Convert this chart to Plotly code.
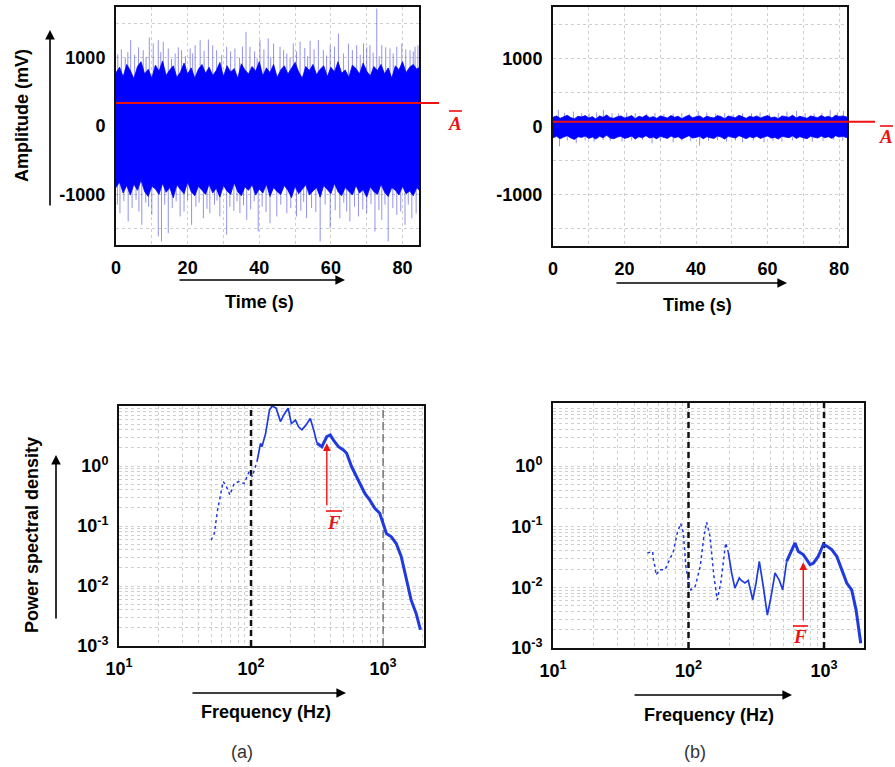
import math
import plotly.graph_objects as go

W, H = 895, 767


def px(x):
    return x / W


def py(y):
    return 1 - y / H


# ---------------- (a) time signal, amplitude in mV ----------------
# dense core of the signal, one envelope value per second
a_core_hi = [780, 860, 720, 900, 810, 690, 870, 940, 760, 830, 700, 890, 800, 950, 740, 820, 880, 710, 790, 920,
             760, 850, 700, 830, 900, 770, 860, 740, 810, 930, 720, 880, 790, 840, 700, 910, 820, 760, 870, 800,
             940, 730, 850, 780, 900, 710, 820, 880, 760, 840, 930, 790, 700, 870, 810, 900, 750, 830, 880, 720,
             860, 790, 940, 770, 820, 710, 890, 840, 760, 920, 800, 730, 870, 810, 900, 760, 850, 700, 880, 820,
             940, 780, 860, 900, 830, 870]
a_core_lo = [-900, -820, -980, -870, -1010, -850, -940, -790, -960, -1030, -880, -920, -1000, -840, -970, -900,
             -1050, -860, -930, -990, -820, -960, -1020, -880, -940, -1000, -850, -980, -910, -1040, -870, -950,
             -1000, -830, -960, -1020, -890, -940, -860, -1010, -920, -980, -850, -1030, -900, -960, -1000, -870,
             -940, -1050, -880, -990, -920, -860, -1010, -950, -900, -1040, -870, -930, -990, -840, -960, -1020,
             -900, -950, -1010, -870, -980, -930, -1040, -890, -960, -1000, -850, -970, -1030, -900, -940, -1010,
             -880, -990, -950, -1020, -900, -960]
# individual positive / negative peaks (time s, amplitude mV)
a_peak_up_t = [0.5, 1.5, 2.6, 3.3, 4.1, 5.2, 6.3, 7.6, 8.4, 9.3, 10.4, 11.8, 12.5, 13.2, 14.6,
               15.5, 16.5, 17.4, 18.3, 19.4, 20.7, 21.4, 22.1, 23.5, 24.6, 25.8, 27.0, 28.1,
               29.5, 30.9, 32.0, 33.2, 34.5, 35.3, 36.3, 37.4, 38.7, 39.4, 40.2, 41.3, 42.5,
               43.2, 44.0, 45.8, 46.8, 47.7, 48.6, 49.5, 50.4, 51.4, 52.7, 53.5, 54.2, 55.3,
               56.5, 57.9, 58.8, 59.8, 61.0, 62.1, 63.5, 64.9, 66.0, 67.2, 68.2, 69.1, 70.0,
               70.9, 71.8, 72.8, 73.5, 74.2, 75.3, 76.5, 77.4, 78.4, 79.8, 80.9, 82.1, 83.0,
               83.5, 84.3]
a_peak_up = [1050, 1120, 1000, 1080, 1255, 1040, 1150, 1109, 1010, 1294, 1206, 1255, 1080,
             1231, 1133, 980, 1060, 1150, 1109, 1020, 1133, 1060, 1182, 1255, 1100, 1265,
             1180, 1109, 1040, 1158, 1090, 1133, 1000, 1160, 1377, 1158, 1090, 990, 1255,
             1120, 1279, 1010, 1206, 1158, 1110, 1060, 1000, 1206, 1090, 1231, 1140, 1020,
             1245, 1120, 1255, 1109, 1030, 1182, 1160, 1352, 1060, 1206, 1110, 1182, 1040,
             1206, 1150, 1182, 1070, 1717, 1020, 1182, 1150, 1133, 1060, 1158, 1206, 1120,
             1109, 1090, 1158, 1180]
a_peak_dn_t = [0.4, 1.1, 2.2, 3.4, 4.5, 5.6, 6.4, 7.2, 8.3, 9.1, 10.0, 11.8, 12.7, 13.6,
               14.6, 15.7, 16.8, 17.9, 19.0, 20.0, 21.1, 22.3, 23.2, 24.4, 25.4, 26.2, 27.5,
               28.2, 29.0, 30.9, 31.8, 32.9, 33.8, 34.6, 35.6, 36.5, 37.6, 38.6, 39.7, 40.8,
               41.9, 43.0, 44.9, 46.0, 47.7, 48.8, 50.4, 51.6, 52.4, 53.2, 54.6, 55.8, 57.0,
               58.4, 59.8, 61.2, 62.5, 63.6, 64.4, 65.3, 66.6, 67.7, 68.9, 70.0, 71.2, 72.3,
               73.4, 74.2, 75.1, 76.0, 77.3, 78.4, 79.5, 80.7, 81.6, 82.6, 83.8]
a_peak_dn = [-1150, -1275, -1100, -1396, -1200, -1080, -1250, -1445, -1120, -1180, -1299,
             -1615, -1688, -1150, -1567, -1200, -1100, -1323, -1250, -1080, -1445, -1180,
             -1120, -1348, -1210, -1275, -1150, -1090, -1323, -1591, -1180, -1240, -1100,
             -1275, -1160, -1372, -1220, -1100, -1542, -1180, -1260, -1421, -1323, -1150,
             -1275, -1200, -1323, -1240, -1110, -1348, -1200, -1260, -1688, -1150, -1494,
             -1230, -1348, -1120, -1250, -1396, -1180, -1323, -1220, -1275, -1140, -1542,
             -1230, -1372, -1150, -1688, -1200, -1299, -1250, -1445, -1150, -1348, -1280]
a_mean = 336

# ---------------- (b) time signal, amplitude in mV ----------------
b_core_hi = [140, 160, 125, 150, 170, 135, 120, 155, 145, 165, 130, 150, 115, 160, 140, 175, 135, 125, 150, 160,
             130, 145, 165, 120, 155, 140, 170, 135, 150, 125, 160, 145, 130, 165, 140, 155, 120, 150, 170, 135,
             145, 160, 125, 155, 140, 130, 165, 150, 120, 160, 145, 135, 170, 150, 125, 155, 140, 160, 130, 150,
             165, 135, 145, 120, 160, 150, 140, 170, 130, 155, 145, 125, 160, 150, 135, 165, 140, 155, 130, 170,
             150, 160, 145, 155]
b_core_lo = [-160, -140, -175, -150, -130, -165, -185, -145, -155, -135, -170, -150, -180, -140, -160, -125,
             -165, -175, -150, -140, -170, -155, -135, -180, -145, -160, -130, -165, -150, -175, -140, -155,
             -170, -135, -160, -145, -180, -150, -130, -165, -155, -140, -175, -145, -160, -170, -135, -150,
             -180, -140, -155, -165, -130, -150, -175, -145, -160, -140, -170, -150, -135, -165, -155, -180,
             -140, -150, -160, -130, -170, -145, -155, -175, -140, -150, -165, -135, -160, -145, -170, -130,
             -150, -140, -155, -160]
b_peak_up_t = [1.5, 3.2, 5.7, 8.0, 10.1, 12.2, 14.1, 16.5, 18.3, 20.6, 23.0, 26.2, 28.5,
               31.0, 33.6, 36.0, 38.2, 40.6, 43.0, 45.5, 48.0, 50.4, 53.0, 55.5, 57.9, 60.5,
               63.0, 65.4, 68.1, 70.5, 73.0, 75.2, 77.5, 79.5, 81.2]
b_peak_up = [248, 205, 224, 200, 195, 209, 248, 200, 195, 209, 200, 195, 205, 190, 195,
             200, 190, 232, 209, 195, 200, 185, 200, 195, 209, 195, 200, 224, 232, 200,
             195, 205, 248, 210, 232]
b_peak_dn_t = [1.8, 4.0, 6.5, 9.0, 11.5, 14.0, 16.0, 19.3, 22.0, 25.0, 27.7, 30.0, 33.6,
               36.0, 38.5, 41.0, 43.5, 46.0, 48.5, 51.0, 53.0, 56.0, 59.0, 61.5, 64.0, 67.0,
               70.0, 72.5, 75.5, 78.5, 81.0]
b_peak_dn = [-287, -200, -241, -200, -217, -195, -205, -217, -200, -195, -241, -205, -226,
             -200, -210, -277, -205, -195, -217, -200, -226, -200, -226, -205, -217, -200,
             -195, -217, -205, -192, -205]
b_mean = 73

# ---------------- power spectral densities ----------------
a_freq = [49.8, 52.7, 55.8, 59.1, 61.5, 64.4, 69.2, 74.5, 81.2, 88.5, 96.6, 102, 111, 118,
          121, 129, 138, 144.6, 155, 167, 177, 191, 202, 217, 229, 243, 260, 281, 298, 316,
          344, 375, 398, 421, 459, 500, 530, 578, 649, 728, 794, 866, 944, 1000, 1060, 1154,
          1258, 1372, 1497, 1632, 1780, 1920]
a_psd = [0.058, 0.075, 0.185, 0.35, 0.55, 0.48, 0.33, 0.51, 0.55, 0.51, 0.8, 0.66, 1.18,
         2.39, 2.1, 3.5, 8.6, 10.0, 9.2, 5.5, 7.1, 9.2, 5.1, 5.8, 4.5, 4.0, 4.8, 6.2, 4.0,
         2.4, 2.1, 3.1, 3.3, 2.7, 2.1, 1.85, 1.63, 0.97, 0.58, 0.35, 0.27, 0.197, 0.163,
         0.111, 0.075, 0.066, 0.051, 0.031, 0.0126, 0.0058, 0.0035, 0.00185]
a_mean_freq = 375

b_freq = [49.7, 54.4, 55, 56.6, 57.5, 61.6, 67.1, 72.2, 77.3, 82.7, 87.5, 91.6, 95.6, 100,
          104, 112, 122, 130, 136, 144, 154, 163, 173, 188, 197, 208, 220, 237, 245, 261,
          276, 298, 315, 333, 353, 382, 407, 435, 468, 495, 530, 568, 611, 646, 703, 745,
          788, 834, 908, 988, 1047, 1140, 1241, 1351, 1472, 1600, 1722, 1866]
b_psd = [0.037, 0.039, 0.0287, 0.022, 0.016, 0.0196, 0.0196, 0.0287, 0.039, 0.0795, 0.113,
         0.0795, 0.022, 0.0125, 0.0091, 0.0103, 0.022, 0.07, 0.119, 0.07, 0.0152, 0.0062,
         0.0118, 0.054, 0.037, 0.0173, 0.0097, 0.0143, 0.013, 0.0118, 0.013, 0.0062, 0.0118,
         0.0269, 0.0118, 0.0035, 0.0071, 0.0173, 0.013, 0.0091, 0.0269, 0.037, 0.054, 0.039,
         0.0347, 0.0287, 0.0237, 0.025, 0.0326, 0.051, 0.048, 0.042, 0.0326, 0.0196, 0.0118,
         0.0091, 0.0043, 0.0012]
b_mean_freq = 703

# reference frequencies marked with dashed lines
band_edges = [100, 1000]

BLUE = "#0000ff"
PSD_BLUE = "#1f3be0"
RED = "#ee1111"
GRID = "#cfcfcf"
SANS = "Liberation Sans, Arial, sans-serif"
SERIF = "Liberation Serif, Times New Roman, serif"

fig = go.Figure()


def needles(ts, vals):
    xs, ys = [], []
    for t, v in zip(ts, vals):
        xs += [t, t, None]
        ys += [0, v, None]
    return xs, ys


def add_signal(xa, ya, hi, lo, up_t, up, dn_t, dn):
    n = min(len(hi), len(lo))
    t = list(range(n))
    for ts, vs in ((up_t, up), (dn_t, dn)):
        xs, ys = needles(ts, vs)
        fig.add_trace(go.Scatter(x=xs, y=ys, mode="lines", xaxis=xa, yaxis=ya,
                                 line=dict(color="rgba(40,40,215,0.5)", width=1),
                                 hoverinfo="skip"))
    fig.add_trace(go.Scatter(x=t + t[::-1], y=hi[:n] + lo[:n][::-1], mode="lines",
                             fill="toself", fillcolor=BLUE, xaxis=xa, yaxis=ya,
                             line=dict(color=BLUE, width=0.8), hoverinfo="skip"))


add_signal("x", "y", a_core_hi, a_core_lo, a_peak_up_t, a_peak_up, a_peak_dn_t, a_peak_dn)
add_signal("x2", "y2", b_core_hi, b_core_lo, b_peak_up_t, b_peak_up, b_peak_dn_t, b_peak_dn)


def add_psd(xa, ya, f, p, low_cut, high_cut):
    # sparse dotted low band, thin middle band, thick dense high band;
    # neighbouring pieces share their boundary sample so the curve stays joined
    i1 = max(i for i, v in enumerate(f) if v <= low_cut)
    i2 = max(i for i, v in enumerate(f) if v <= high_cut)
    segs = [
        (range(0, i1 + 1), dict(width=1.5, dash="dot")),
        (range(i1, i2 + 1), dict(width=1.7)),
        (range(i2, len(f)), dict(width=3)),
    ]
    for idx, style in segs:
        fig.add_trace(go.Scatter(x=[f[i] for i in idx], y=[p[i] for i in idx],
                                 mode="lines", xaxis=xa, yaxis=ya,
                                 line=dict(color=PSD_BLUE, **style), hoverinfo="skip"))


# dashed reference frequencies
fig.add_trace(go.Scatter(x=[band_edges[0]] * 2, y=[1e-3, 10], mode="lines", xaxis="x3",
                         yaxis="y3", line=dict(color="#111", width=2.5, dash="6px,4px")))
fig.add_trace(go.Scatter(x=[band_edges[1]] * 2, y=[1e-3, 10], mode="lines", xaxis="x3",
                         yaxis="y3", line=dict(color="#555", width=1.2, dash="8px,4px")))
for fe in band_edges:
    fig.add_trace(go.Scatter(x=[fe] * 2, y=[1e-3, 12], mode="lines", xaxis="x4",
                             yaxis="y4", line=dict(color="#111", width=2.5, dash="6px,4px")))

add_psd("x3", "y3", a_freq, a_psd, 113, 330)
add_psd("x4", "y4", b_freq, b_psd, 197, 530)

# ---------------- axes ----------------
tick_font = dict(family=SANS, size=18, color="#000", weight="bold")
frame = dict(showline=True, mirror=True, linecolor="#111", linewidth=2, zeroline=False,
             showgrid=True, gridcolor=GRID, griddash="dot", gridwidth=1,
             tickfont=tick_font, ticks="", ticklabelstandoff=5, automargin=False)


def lin_axis(domain, rng, anchor, major, minor, labels=None):
    ax = dict(frame, domain=domain, range=rng, anchor=anchor, tickmode="array",
              tickvals=major,
              minor=dict(tickmode="array", tickvals=minor, showgrid=True,
                         gridcolor=GRID, griddash="dot", ticks=""))
    if labels is not None:
        ax["ticktext"] = labels
    return ax


log_minor = [k * 10 ** n for n in range(-3, 4) for k in range(2, 10)]


def sup(n):
    return "10<sup>%s</sup>" % ("-%d" % -n if n < 0 else "%d" % n)


def log_axis(domain, rng, anchor, exps):
    return dict(frame, type="log", domain=domain, range=rng, anchor=anchor,
                tickmode="array", tickvals=[10 ** e for e in exps],
                ticktext=[sup(e) for e in exps],
                minor=dict(tickmode="array", tickvals=log_minor, showgrid=True,
                           gridcolor=GRID, griddash="dot", ticks=""))


amp_labels = ["-1000", "0", "1000"]
layout = dict(
    width=W, height=H, margin=dict(l=0, r=0, t=0, b=0, pad=0, autoexpand=False),
    showlegend=False, paper_bgcolor="white", plot_bgcolor="white",
    xaxis=lin_axis([px(116), px(419)], [0, 84.6], "y", [0, 20, 40, 60, 80], [10, 30, 50, 70]),
    yaxis=lin_axis([py(245), py(7)], [-1740, 1740], "x", [-1000, 0, 1000],
                   [-1500, -500, 500, 1500], amp_labels),
    xaxis2=lin_axis([px(553), px(847)], [0, 82.2], "y2", [0, 20, 40, 60, 80], [10, 30, 50, 70]),
    yaxis2=lin_axis([py(246), py(7)], [-1750, 1760], "x2", [-1000, 0, 1000],
                    [-1500, -500, 500, 1500], amp_labels),
    xaxis3=log_axis([px(119), px(424)], [1, 3.31], "y3", [1, 2, 3]),
    yaxis3=log_axis([py(646), py(406)], [-3, 1], "x3", [-3, -2, -1, 0]),
    xaxis4=log_axis([px(553), px(864)], [1, 3.295], "y4", [1, 2, 3]),
    yaxis4=log_axis([py(648), py(403)], [-3, 1.04], "x4", [-3, -2, -1, 0]),
)
fig.update_layout(**layout)

# ---------------- mean amplitude lines ----------------
shapes = []
annotations = []
for yref, mean, x0, x1 in (("y", a_mean, 116, 439), ("y2", b_mean, 553, 875)):
    shapes.append(dict(type="line", xref="paper", yref=yref, x0=px(x0), x1=px(x1),
                       y0=mean, y1=mean, line=dict(color=RED, width=2)))


def bar_label(letter, cx, cy, bar_y, bx0, bx1):
    annotations.append(dict(xref="paper", yref="paper", x=px(cx), y=py(cy),
                            xanchor="center", yanchor="middle",
                            text="<b><i>%s</i></b>" % letter, showarrow=False,
                            font=dict(family=SERIF, size=19, color=RED)))
    shapes.append(dict(type="line", xref="paper", yref="paper", x0=px(bx0), x1=px(bx1),
                       y0=py(bar_y), y1=py(bar_y), line=dict(color=RED, width=1.6)))


bar_label("A", 455, 124, 111, 449, 462)
bar_label("A", 886, 136, 126, 880, 893)
bar_label("F", 334, 522, 511, 326, 342)
bar_label("F", 800, 636, 626, 793, 808)

# mean frequency arrows
for xa, ya, fm, tip, tail in (("x3", "y3", a_mean_freq, 2.4, 0.21),
                              ("x4", "y4", b_mean_freq, 0.026, 0.0027)):
    annotations.append(dict(xref=xa, yref=ya, axref=xa, ayref=ya,
                            x=math.log10(fm), y=math.log10(tip),
                            ax=math.log10(fm), ay=math.log10(tail),
                            text="", showarrow=True, arrowhead=2, arrowsize=1.1,
                            arrowwidth=1.4, arrowcolor=RED))


# black direction arrows next to the axis titles
def arrow(hx, hy, tx, ty):
    annotations.append(dict(xref="paper", yref="paper", x=px(hx), y=py(hy),
                            ax=tx - hx, ay=ty - hy, text="", showarrow=True,
                            arrowhead=2, arrowsize=1.2, arrowwidth=1.6,
                            arrowcolor="#000"))


arrow(50, 30, 50, 207)
arrow(345, 280, 178, 280)
arrow(787, 283, 615, 283)
arrow(56, 455, 56, 620)
arrow(346, 693, 191, 693)
arrow(792, 695, 633, 695)


def title(text, x, y, angle=0, bold=True, size=18):
    annotations.append(dict(xref="paper", yref="paper", x=px(x), y=py(y),
                            xanchor="center", yanchor="middle",
                            text="<b>%s</b>" % text if bold else text, textangle=angle,
                            showarrow=False,
                            font=dict(family=SANS, size=size, color="#000" if bold else "#333")))


title("Amplitude (mV)", 22, 116, -90)
title("Time (s)", 259, 302)
title("Time (s)", 697, 305)
title("Power spectral density", 32, 535, -90)
title("Frequency (Hz)", 266, 712)
title("Frequency (Hz)", 709, 715)
title("(a)", 242, 752, bold=False, size=18)
title("(b)", 695, 752, bold=False, size=18)

fig.update_layout(shapes=shapes, annotations=annotations)
fig.write_html("out.html",
               post_script="document.body.style.margin='0';document.body.style.overflow='hidden';")
